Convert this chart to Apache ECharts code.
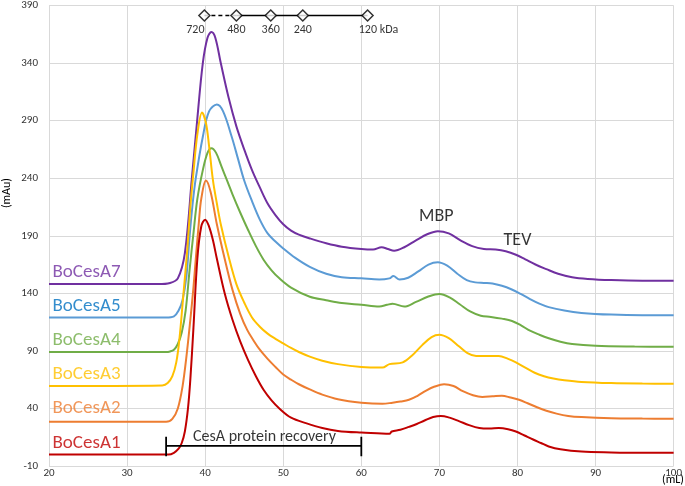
<!DOCTYPE html>
<html>
<head>
<meta charset="utf-8">
<script src="https://cdn.jsdelivr.net/npm/echarts@6/dist/echarts.min.js"></script>
<style>
html,body{margin:0;padding:0;background:#fff;}
#chart{width:685px;height:486px;}
</style>
</head>
<body>
<div id="chart"></div>
<script>
// ---- data (elution volume in mL, absorbance in mAu) ----
const a7x = [20, 34, 35.5, 36.5, 37.4, 38.3, 39.0, 39.7, 40.3, 40.8, 41.3, 42, 43, 44, 45, 46, 47, 48, 49, 50, 51, 52, 53.5, 55.5, 57.5, 60, 61.5, 62.6, 63.4, 64.2, 65.5, 67, 68.5, 69.8, 71.2, 72.7, 74.2, 75.7, 77.2, 78.5, 79.8, 81, 82.3, 83.7, 85.2, 87, 89, 92, 96, 100];
const a7y = [148, 148, 149, 153, 175, 240, 292, 340, 362, 367, 362, 340, 310, 285, 265, 247, 232, 218, 208, 200, 194.5, 191, 187.5, 183.5, 180.5, 178.5, 178, 180, 178.5, 177, 180, 186, 191.5, 194, 192, 186, 181, 178.5, 178, 176.5, 173.5, 169.5, 165, 161, 157, 154, 152.5, 151.5, 151, 151];

const a5x = [20, 35, 36, 36.6, 37.1, 37.6, 38, 38.4, 38.8, 39.7, 40.5, 41.5, 42.3, 43.4, 44.2, 45, 46, 47, 48, 49, 50, 51.5, 53.4, 55.5, 57.5, 60, 62.3, 63.6, 64.1, 64.9, 66, 67.3, 68.6, 69.8, 71, 72.3, 73.5, 74.6, 75.7, 76.8, 78, 79.2, 80.4, 81.6, 82.8, 84, 86, 88.2, 92, 96, 100];
const a5y = [119, 119, 120, 125, 134, 155, 189, 218, 240, 276, 298, 304, 298, 276, 257, 238, 220, 204, 192, 185, 179, 171, 163, 157, 154, 153, 152, 153, 155, 152, 153.5, 159, 165, 167, 164, 157, 151.5, 149.5, 149, 148.5, 146.5, 143.5, 139.5, 135, 131, 128, 125, 123, 121.5, 121, 121];

const a4x = [20, 35, 35.5, 36, 36.5, 37, 37.5, 38, 38.5, 39, 39.7, 40.3, 40.8, 41.4, 42.1, 42.8, 43.5, 44.5, 45.5, 46.5, 47.5, 48.5, 49.5, 51, 53.4, 55.5, 57.5, 60, 62.3, 63.3, 64, 65.5, 67, 68.5, 70, 71.3, 72.6, 74, 75.3, 76.6, 78, 79.3, 80.5, 81.6, 82.8, 84, 85.5, 87, 90, 95, 100];
const a4y = [89, 89, 89.5, 91, 96, 106, 125, 160, 192, 222, 247, 262, 266, 262, 250, 238, 226, 210, 195, 181, 169, 160, 153, 145, 137, 134, 131.5, 130, 128.5, 130, 131, 128.5, 132.5, 137, 139.5, 136.5, 130.5, 124, 120.5, 119.5, 118, 116, 112, 107.5, 104, 101, 98, 96, 94.5, 93.8, 93.5];

const a3x = [20, 34.5, 35.2, 35.8, 36.3, 36.7, 37.2, 37.7, 38.1, 38.5, 39, 39.6, 40.1, 40.5, 41, 41.5, 42, 43, 44, 45, 46, 47, 48, 49, 50, 51, 52, 53.4, 55, 57, 60, 62.7, 63.6, 65.3, 66.5, 67.8, 69, 70, 71.2, 72.5, 73.6, 74.7, 76.2, 77.6, 78.8, 79.8, 81, 82.2, 83.4, 84.6, 86, 88.2, 92, 96, 100];
const a3y = [59.5, 60, 62, 68, 80, 100, 138, 177, 215, 245, 278, 297, 288, 268, 238, 218, 200, 172, 148, 132, 119, 111, 105, 100.5, 96.5, 92.5, 89, 85, 81.5, 78.5, 76, 75.5, 78.5, 80, 86, 95, 102, 104, 101, 94, 88, 85.5, 85.5, 85.5, 83, 80, 75.5, 71, 68, 66, 64.5, 63, 62, 61.6, 61.5];

const a2x = [20, 35, 35.8, 36.5, 37.1, 37.6, 38.1, 38.5, 38.8, 39.2, 39.5, 40.1, 40.7, 41.5, 42.5, 43.5, 44.5, 45.4, 46.2, 47, 48, 49, 50, 51, 52, 53.4, 55, 57, 60, 62.7, 64, 65, 66.1, 67.2, 68.3, 69.4, 70.6, 71.8, 73, 74.3, 75.5, 76.8, 78, 79.1, 80.2, 81.3, 82.5, 83.7, 85, 86.5, 88.2, 92, 96, 100];
const a2y = [28.5, 28.5, 31, 40, 59, 85, 117, 145, 170, 202, 222, 238, 228, 200, 170, 143, 122, 108, 99, 91, 83, 76, 69.5, 65, 61, 56.5, 52, 48, 45, 44, 45, 46, 47.5, 51, 55.5, 59, 61, 59.5, 55, 51.5, 50, 50.5, 51, 49.5, 47.5, 44.5, 41, 38, 35.5, 33.5, 32.5, 31.5, 31.2, 31];

const a1x = [20, 35.3, 36, 36.6, 37, 37.4, 37.8, 38.1, 38.5, 39, 39.5, 40, 40.5, 41, 41.5, 42.5, 43.5, 44.5, 45.5, 46.5, 47.5, 48.5, 49.5, 51, 53, 55, 57, 60, 62, 63.6, 63.9, 65, 66.1, 67.1, 68.1, 69.2, 70.2, 71.3, 72.5, 73.8, 75.1, 76.4, 77.6, 78.8, 79.8, 80.9, 82, 83, 84, 85.5, 88.2, 92, 96, 100];
const a1y = [0, 0, 1.5, 5, 10, 20, 40, 65, 110, 170, 198, 204, 198, 186, 170, 140, 117, 98, 82, 68, 56, 47, 40, 32, 27, 23, 20.5, 19, 18.5, 18, 20, 21.5, 24, 26.5, 29.5, 32.5, 33.5, 32, 29, 25.5, 23, 22.5, 23, 22, 20, 16.5, 13, 10, 7, 4.5, 2.5, 1.8, 1.5, 1.5];

const seriesNames = ['BoCesA7', 'BoCesA5', 'BoCesA4', 'BoCesA3', 'BoCesA2', 'BoCesA1'];
const nameLabelY = [158.5, 129, 99.6, 70, 39.8, 10];

// molecular weight markers (elution volume, label)
const mwVolumes = [39.9, 44.0, 48.4, 52.5, 60.8];
const mwLabels = ['720', '480', '360', '240', '120 kDa'];
const mwLevel = 381.3;

// CesA recovery range (mL)
const recoveryRange = [35, 60];

// peak annotations
const peakNames = ['MBP', 'TEV'];
const peakPos = [[69.6, 207], [80, 186]];

const xTicks = [20, 30, 40, 50, 60, 70, 80, 90, 100];
const yTicks = [-10, 40, 90, 140, 190, 240, 290, 340, 390];

// ---- styles ----
const lineColors = ['#7030A0', '#5B9BD5', '#70AD47', '#FFC000', '#ED7D31', '#C00000'];
const labelColors = ['#7030A0', '#0070C0', '#70AD47', '#FFC000', '#ED7D31', '#C00000'];
const FONT = 'Carlito, Lato, "Open Sans", sans-serif';

const xs = [a7x, a5x, a4x, a3x, a2x, a1x];
const ys = [a7y, a5y, a4y, a3y, a2y, a1y];

const series = [];
seriesNames.forEach((n, i) => {
  series.push({
    name: n,
    type: 'line',
    data: xs[i].map((x, k) => [x, ys[i][k]]),
    smooth: 0.35,
    showSymbol: false,
    lineStyle: { color: lineColors[i], width: 2 },
    z: 2 + i
  });
});

// series name labels
series.push({
  type: 'scatter',
  symbolSize: 0,
  silent: true,
  data: seriesNames.map((n, i) => ({
    value: [20.45, nameLabelY[i]],
    label: { show: true, formatter: n, color: labelColors[i] }
  })),
  label: { position: 'right', distance: 0, fontSize: 19, fontFamily: FONT },
  z: 20
});

// MW marker lines
series.push({
  type: 'line',
  data: mwVolumes.slice(0, 2).map(v => [v, mwLevel]),
  showSymbol: false,
  lineStyle: { color: '#000', width: 1.5, type: [4, 3] },
  silent: true, z: 10
});
series.push({
  type: 'line',
  data: mwVolumes.slice(1).map(v => [v, mwLevel]),
  showSymbol: false,
  lineStyle: { color: '#000', width: 1.5 },
  silent: true, z: 10
});
series.push({
  type: 'scatter',
  symbol: 'diamond',
  symbolSize: [11, 11],
  itemStyle: { color: '#fff', borderColor: '#000', borderWidth: 1.5 },
  data: mwVolumes.map((v, i) => ({
    value: [v, mwLevel],
    label: {
      formatter: mwLabels[i],
      offset: i === 0 ? [-9, 0] : (i === mwLabels.length - 1 ? [11, 0] : [0, 0])
    }
  })),
  label: { show: true, position: 'bottom', distance: 2, fontSize: 12, color: '#000', fontFamily: FONT },
  silent: true, z: 11
});

// recovery bracket
const r0 = recoveryRange[0], r1 = recoveryRange[1];
series.push({
  type: 'line',
  data: [[r0, 15.5], [r0, -1.5], [r0, 7.5], [r1, 7.5], [r1, 15.5], [r1, -1.5]],
  showSymbol: false,
  lineStyle: { color: '#000', width: 1.8 },
  silent: true, z: 12
});
series.push({
  type: 'scatter',
  symbolSize: 0,
  data: [{ value: [47.6, 15.2], label: { formatter: 'CesA protein recovery' } }],
  label: { show: true, position: 'inside', fontSize: 16, color: '#000', fontFamily: FONT },
  silent: true, z: 13
});

// peak annotations
series.push({
  type: 'scatter',
  symbolSize: 0,
  data: peakNames.map((n, i) => ({ value: peakPos[i], label: { formatter: n } })),
  label: { show: true, position: 'inside', fontSize: 18, color: '#000', fontFamily: FONT },
  silent: true, z: 13
});

const chart = echarts.init(document.getElementById('chart'), null, { renderer: 'canvas' });
chart.setOption({
  animation: false,
  backgroundColor: '#fff',
  grid: { left: 49, right: 10, top: 5, bottom: 20, containLabel: false },
  xAxis: {
    type: 'value',
    min: xTicks[0], max: xTicks[xTicks.length - 1], interval: 10,
    axisLine: { show: false },
    axisTick: { show: false },
    axisLabel: { color: '#333', fontSize: 11, fontFamily: FONT, margin: 2 },
    splitLine: { show: true, lineStyle: { color: '#d9d9d9', width: 1 } }
  },
  yAxis: {
    type: 'value',
    min: yTicks[0], max: yTicks[yTicks.length - 1], interval: 50,
    axisLine: { show: false },
    axisTick: { show: false },
    axisLabel: { color: '#333', fontSize: 11, fontFamily: FONT, margin: 11 },
    splitLine: { show: true, lineStyle: { color: '#d9d9d9', width: 1 } }
  },
  graphic: [
    { type: 'text', left: 1, top: 178, rotation: Math.PI / 2,
      style: { text: '(mAu)', fontSize: 12, fill: '#000', fontFamily: FONT } },
    { type: 'text', right: 1, bottom: 0,
      style: { text: '(mL)', fontSize: 12, fill: '#000', fontFamily: FONT } }
  ],
  series: series
});
</script>
</body>
</html>
